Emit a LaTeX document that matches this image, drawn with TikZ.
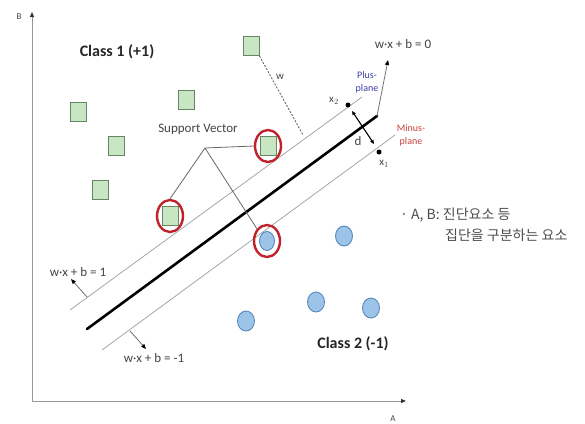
\documentclass[tikz,border=0pt]{standalone}
\usepackage{fontspec}
\setmainfont{Carlito}
\newfontfamily\krfont{Noto Sans CJK KR}
\usetikzlibrary{shapes.geometric,arrows.meta}
\definecolor{sqfill}{HTML}{C8E6C2}
\definecolor{sqdraw}{HTML}{66866A}
\definecolor{cifill}{HTML}{9CC3E8}
\definecolor{cidraw}{HTML}{5A88BE}
\definecolor{ringred}{HTML}{C0222C}
\definecolor{txt}{HTML}{444444}
\definecolor{plusblue}{HTML}{3A3AA8}
\definecolor{minusred}{HTML}{C84040}
\tikzset{
  sq/.style={rectangle,draw=sqdraw,fill=sqfill,line width=0.9pt,minimum width=16pt,minimum height=19pt,inner sep=0pt},
  ci/.style={ellipse,draw=cidraw,fill=cifill,line width=0.9pt,minimum width=17pt,minimum height=20pt,inner sep=0pt},
  ring/.style={ellipse,draw=ringred,line width=2.4pt,minimum width=26pt,minimum height=32pt,inner sep=0pt},
  plane/.style={draw=black!35,line width=0.8pt},
  axisline/.style={draw=black!40,line width=1pt,-{Triangle[length=5pt,width=4pt,color=black!80]}},
  lblarrow/.style={draw=black!55,line width=0.8pt,-{Triangle[length=5pt,width=4pt,color=black]}},
  svline/.style={draw=black!60,line width=0.8pt},
  lbl/.style={text=txt,font=\fontsize{13}{15}\selectfont,inner sep=0pt},
  cls/.style={text=black!85,font=\fontsize{16}{18}\selectfont\bfseries,inner sep=0pt},
  dot/.style={circle,fill=black,inner sep=0pt,minimum size=5pt}
}
\begin{document}
\begin{tikzpicture}[x=1pt,y=-1pt]
\useasboundingbox (0,0) rectangle (585,423);
% axes
\coordinate (origin) at (32,401);
\coordinate (btop) at (32,12);
\coordinate (aend) at (406,401);
\draw[axisline] (origin) -- (btop);
\draw[axisline] (origin) -- (aend);
\node[lbl,font=\fontsize{9}{10}\selectfont] (blab) at (19,17) {B};
\node[lbl,font=\fontsize{9}{10}\selectfont] (alab) at (393,419) {A};
% planes
\coordinate (pa) at (70,310);
\coordinate (pb) at (362,97);
\coordinate (ma) at (102,350);
\coordinate (mb) at (395,135);
\coordinate (ha) at (87,329);
\coordinate (hb) at (377,116);
\draw[plane] (pa) -- (pb);
\draw[plane] (ma) -- (mb);
\draw[line width=2.6pt,line cap=round] (ha) -- (hb);
% normal arrow
\coordinate (nend) at (388,60);
\draw[lblarrow] (hb) -- (nend);
\node[lbl] (h0) at (403,44) {w·x + b = 0};
% labels of planes
\node[lbl,text=plusblue,font=\fontsize{10}{13}\selectfont,align=center] (pluslab) at (367,82) {Plus-\\plane};
\node[lbl,text=minusred,font=\fontsize{10}{13}\selectfont,align=center] (minuslab) at (411,135) {Minus-\\plane};
% x1, x2, d
\node[dot] (x2) at (348,105) {};
\node[dot] (x1) at (379,152) {};
\node[lbl,font=\fontsize{11}{12}\selectfont] (x2lab) at (334,101) {x$_2$};
\node[lbl,font=\fontsize{11}{12}\selectfont] (x1lab) at (384,164) {x$_1$};
\coordinate (da) at (352,111);
\coordinate (db) at (374,144);
\draw[line width=1.1pt,{Triangle[length=4pt,width=3.5pt]}-{Triangle[length=4pt,width=3.5pt]}] (da) -- (db);
\node[lbl,font=\fontsize{13}{14}\selectfont] (dlab) at (358,141) {d};
% class 1 squares
\node[sq] (s1) at (251,46) {};
\node[sq] (s2) at (78,112) {};
\node[sq] (s3) at (186,100) {};
\node[sq] (s4) at (116,146) {};
\node[sq] (s5) at (100,190) {};
\node[sq] (s6) at (268,146) {};
\node[sq] (s7) at (170,216) {};
% class 2 circles
\node[ci,minimum width=15pt,minimum height=19pt] (c1) at (267,241) {};
\node[ci] (c2) at (246,321) {};
\node[ci] (c3) at (344,236) {};
\node[ci] (c4) at (316,302) {};
\node[ci] (c5) at (371,308) {};
% rings
\node[ring] (r1) at (268,146) {};
\node[ring] (r2) at (170,216) {};
\node[ring] (r3) at (267,241) {};
% w dashed
\coordinate (wend) at (303,135);
\draw[draw=black!60,line width=0.9pt,dash pattern=on 2pt off 1.5pt] (s1.south east) -- (wend);
\node[lbl,font=\fontsize{11}{12}\selectfont] (wlab) at (280,77) {w};
% support vector
\node[lbl,font=\fontsize{13}{14}\selectfont] (svlab) at (198,129) {Support Vector};
\coordinate (jn) at (205,148);
\draw[svline] (jn) -- (r1.west);
\draw[svline] (jn) -- (r2.north);
\draw[svline] (jn) -- (r3.north west);
% class labels
\node[cls] (cl1) at (117,52) {Class 1 (+1)};
\node[cls] (cl2) at (353,344) {Class 2 (-1)};
% w x + b = 1 / -1
\coordinate (p1s) at (87,297);
\coordinate (p1e) at (71,279);
\draw[lblarrow] (p1s) -- (p1e);
\node[lbl] (h1) at (78,272) {w·x + b = 1};
\coordinate (m1s) at (130,331);
\coordinate (m1e) at (146,349);
\draw[lblarrow] (m1s) -- (m1e);
\node[lbl] (hm1) at (154,358) {w·x + b = -1};
% korean note
\node[lbl,anchor=west,text=black!70,font=\krfont\fontsize{14}{16}\selectfont] (k1) at (400,215) {· A, B: 진단요소 등};
\node[lbl,anchor=west,text=black!70,font=\krfont\fontsize{14}{16}\selectfont] (k2) at (445,235) {집단을 구분하는 요소};
\end{tikzpicture}
\end{document}
